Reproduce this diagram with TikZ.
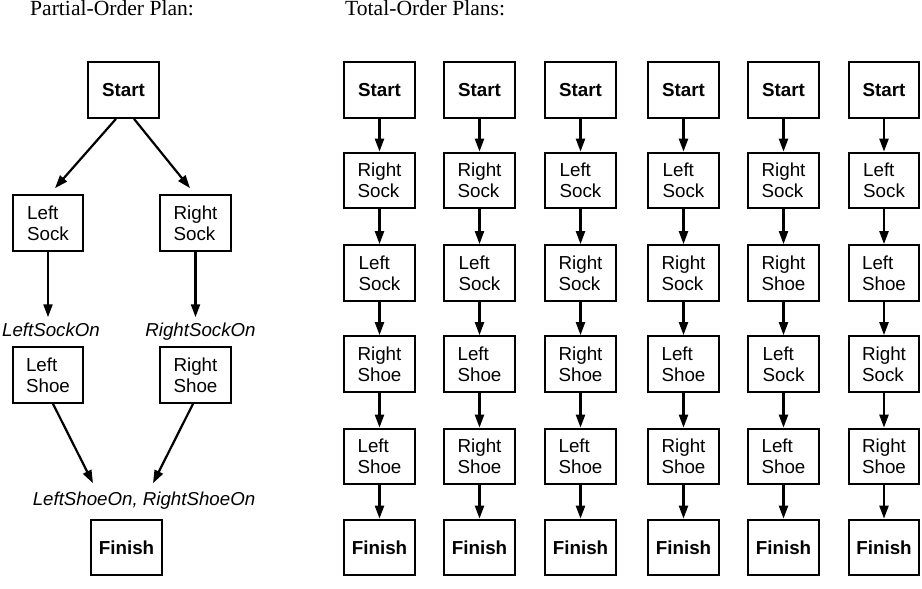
\documentclass[tikz,border=0pt]{standalone}
\usepackage{fontspec}
\setmainfont{Liberation Serif}
\setsansfont{Liberation Sans}
\usetikzlibrary{arrows.meta}
\newcommand\RSk{Right\\Sock}
\newcommand\LSk{Left\\Sock}
\newcommand\RSh{Right\\Shoe}
\newcommand\LSh{Left\\Shoe}
\tikzset{
  stepbox/.style={draw, line width=2.2pt, minimum width=70.5pt, minimum height=55.5pt,
    inner sep=0pt, align=left, font=\sffamily\fontsize{18.8}{21}\selectfont},
  endbox/.style={stepbox, font=\sffamily\bfseries\fontsize{18.8}{21}\selectfont},
  cond/.style={inner sep=0pt, anchor=base, font=\sffamily\itshape\fontsize{18.7}{21}\selectfont},
  title/.style={inner sep=0pt, anchor=base west, font=\rmfamily\fontsize{21.6}{26}\selectfont},
  arr/.style={line width=2.2pt, -{Triangle[length=13pt,width=9pt]}}
}
\begin{document}
\begin{tikzpicture}[x=1pt,y=-1pt]
\useasboundingbox (0,0) rectangle (922,589);
% titles
\node[title] (t1) at (30,16) {Partial-Order Plan:};
\node[title] (t2) at (345,16) {Total-Order Plans:};
% partial-order plan
\node[endbox] (start) at (123.5,90) {Start};
\node[stepbox] (lsock) at (48,223) {\LSk};
\node[stepbox] (rsock) at (195.5,223) {\RSk};
\node[cond] (lsockon) at (51,336) {LeftSockOn};
\node[cond] (rsockon) at (200.5,336) {RightSockOn};
\node[stepbox] (lshoe) at (48,375) {\LSh};
\node[stepbox] (rshoe) at (195.5,375) {\RSh};
\node[cond] (shoeon) at (144,505) {LeftShoeOn, RightShoeOn};
\node[endbox] (finish) at (126.5,547.5) {Finish};
\draw[arr] ([shift={(-7.5,0)}]start.south) -- ([shift={(7,-6)}]lsock.north);
\draw[arr] ([shift={(10.5,0)}]start.south) -- ([shift={(-5.5,-6)}]rsock.north);
\draw[arr] (lsock.south) -- ([shift={(-3,-5)}]lsockon.north);
\draw[arr] (rsock.south) -- ([shift={(-5,-5)}]rsockon.north);
\draw[arr] ([shift={(5,0)}]lshoe.south) -- ([shift={(-51,-8)}]shoeon.north);
\draw[arr] ([shift={(-2.5,0)}]rshoe.south) -- ([shift={(9,-8)}]shoeon.north);
% total-order plans
\foreach \c/\x/\a/\b/\cc/\d in {
  1/379.5/\RSk/\LSk/\RSh/\LSh,
  2/479.5/\RSk/\LSk/\LSh/\RSh,
  3/580.5/\LSk/\RSk/\RSh/\LSh,
  4/683.5/\LSk/\RSk/\LSh/\RSh,
  5/783.5/\RSk/\RSh/\LSk/\LSh,
  6/884/\LSk/\LSh/\RSk/\RSh}{
  \node[endbox] (s\c) at (\x,90) {Start};
  \node[stepbox] (a\c) at (\x,180.5) {\a};
  \node[stepbox] (b\c) at (\x,273) {\b};
  \node[stepbox] (c\c) at (\x,364) {\cc};
  \node[stepbox] (d\c) at (\x,456.5) {\d};
  \node[endbox] (f\c) at (\x,547.5) {Finish};
  \draw[arr] (s\c) -- (a\c);
  \draw[arr] (a\c) -- (b\c);
  \draw[arr] (b\c) -- (c\c);
  \draw[arr] (c\c) -- (d\c);
  \draw[arr] (d\c) -- (f\c);
}
\end{tikzpicture}
\end{document}
